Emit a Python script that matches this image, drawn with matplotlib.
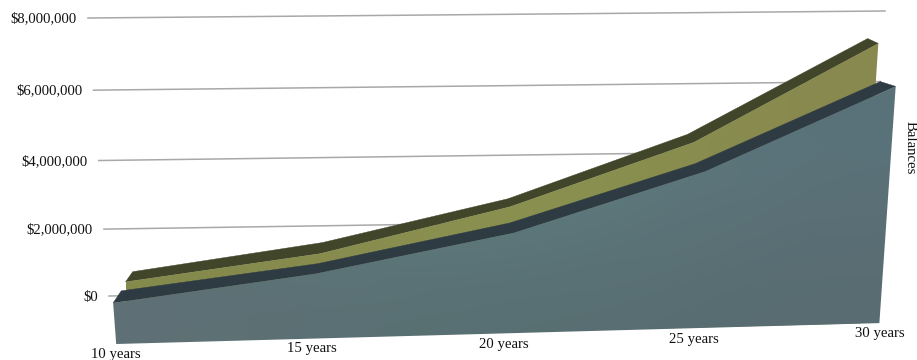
import numpy as np
import matplotlib
matplotlib.use("Agg")
import matplotlib.pyplot as plt
from matplotlib.colors import to_rgb
from matplotlib.patches import Polygon

plt.rcParams["font.family"] = ["Liberation Serif", "DejaVu Serif"]

# data
categories = ["10 years", "15 years", "20 years", "25 years", "30 years"]
balances_back = [720000, 1500000, 2720000, 4540000, 7230000]
balances_front = [150000, 870000, 2000000, 3680000, 6000000]
tick_values = [0, 2000000, 4000000, 6000000, 8000000]
tick_labels = ["$0", "$2,000,000", "$4,000,000", "$6,000,000", "$8,000,000"]

# perspective setup
cat_pos = np.array([0, 0.26, 0.515, 0.76, 1.0])
label_pos = np.array([0, 0.252, 0.502, 0.752, 1.0])
FLOOR = -1100000
V_MAX = 8000000


def fit_homography(src, dst):
    rows, rhs = [], []
    for (a, b), (x, y) in zip(src, dst):
        rows.append([a, b, 1, 0, 0, 0, -a * x, -b * x])
        rows.append([0, 0, 0, a, b, 1, -a * y, -b * y])
        rhs += [x, y]
    h = np.linalg.solve(np.array(rows, float), np.array(rhs, float))
    return np.append(h, 1).reshape(3, 3)


# wall plane: u across the chart, v = value / V_MAX
H = fit_homography(
    [(0, 0), (1, 0), (0, 1), (1, 1)],
    [(109, 296), (867, 283), (88, 18), (885, 11)],
)


def wall(u, value):
    u = np.asarray(u, float)
    v = np.asarray(value, float) / V_MAX
    w = H[2, 0] * u + H[2, 1] * v + 1
    x = (H[0, 0] * u + H[0, 1] * v + H[0, 2]) / w
    y = (H[1, 0] * u + H[1, 1] * v + H[1, 2]) / w
    return np.column_stack([x, y])


def edge(values, plane, pos=cat_pos):
    # a ribbon edge sits at its own depth: u range and vertical shift
    u0, u1, dy = plane
    pos = np.asarray(pos, float)
    pts = wall(u0 + (u1 - u0) * pos, values)
    pts[:, 1] += np.interp(pos, cat_pos, dy)
    return pts


FRONT_BLUE = (0.0058, 1.02, [12, 10, 10, 8, 5])
BACK_BLUE = (0.0163, 1.0, [0, 0, 0, 0, 0])
FRONT_OLIVE = (0.0236, 0.9937, [10, 11, 8, 8, 5])
BACK_OLIVE = (0.0328, 0.98, [0, 0, 0, 0, 0])


def gradient_face(ax, pts, colours):
    grid = np.array([[to_rgb(c) for c in row] for row in colours])
    x0, y0 = pts.min(axis=0)
    x1, y1 = pts.max(axis=0)
    im = ax.imshow(grid, extent=(x0, x1, y1, y0), interpolation="bicubic",
                   aspect="auto", zorder=ax.zcount)
    poly = Polygon(pts, closed=True, transform=ax.transData, facecolor="none", edgecolor="none")
    ax.add_patch(poly)
    im.set_clip_path(poly)
    ax.zcount += 1


def draw_ribbon(ax, values, front, back, top_colour, colours):
    floor = [FLOOR] * 2
    f_top = edge(values, front)
    b_top = edge(values, back)
    f_low = edge(floor, front, pos=[1, 0])
    top = np.vstack([f_top, b_top[::-1]])
    ax.add_patch(Polygon(top, closed=True, facecolor=top_colour, edgecolor=top_colour,
                         linewidth=0.3, zorder=ax.zcount))
    ax.zcount += 1
    gradient_face(ax, np.vstack([f_top, f_low]), colours)


fig = plt.figure(figsize=(9.17, 3.6), dpi=100)
ax = fig.add_axes([0, 0, 1, 1])
ax.zcount = 3

# value gridlines and labels
for val, lab in zip(tick_values, tick_labels):
    line = wall([0, 1], [val, val])
    ax.plot(line[:, 0], line[:, 1], color="#a8a8a8", linewidth=1.1, zorder=1)
    ax.text(line[0, 0] - 11, line[0, 1] + 1, lab, ha="right", va="center", fontsize=10.6, color="#111111")

# back ribbon first, the front one overlaps it
draw_ribbon(ax, balances_back, FRONT_OLIVE, BACK_OLIVE, "#41452a", [
    ["#858b4e", "#8a9050", "#88904f", "#89894f"],
    ["#84894c", "#8a8f4f", "#8a924f", "#85884e"],
])
draw_ribbon(ax, balances_front, FRONT_BLUE, BACK_BLUE, "#2f3b43", [
    ["#5f7b80", "#607d82", "#5e7c80", "#59727a"],
    ["#5c7378", "#5f7c80", "#5c777a", "#5b6f76"],
    ["#5f7075", "#587073", "#586e72", "#586c71"],
])

# category labels under the floor edge
floor_pts = edge([FLOOR] * len(categories), FRONT_BLUE, pos=label_pos)
for (x, y), lab in zip(floor_pts, categories):
    ax.text(x, y + 10, lab, ha="center", va="center", fontsize=10.6, color="#111111")

ax.text(910, 148, "Balances", rotation=-90, ha="center", va="center", fontsize=10.6, color="#111111")

ax.set_xlim(0, 917)
ax.set_ylim(360, 0)
ax.axis("off")

fig.savefig("out.png", dpi=100, facecolor="white")
plt.close(fig)
